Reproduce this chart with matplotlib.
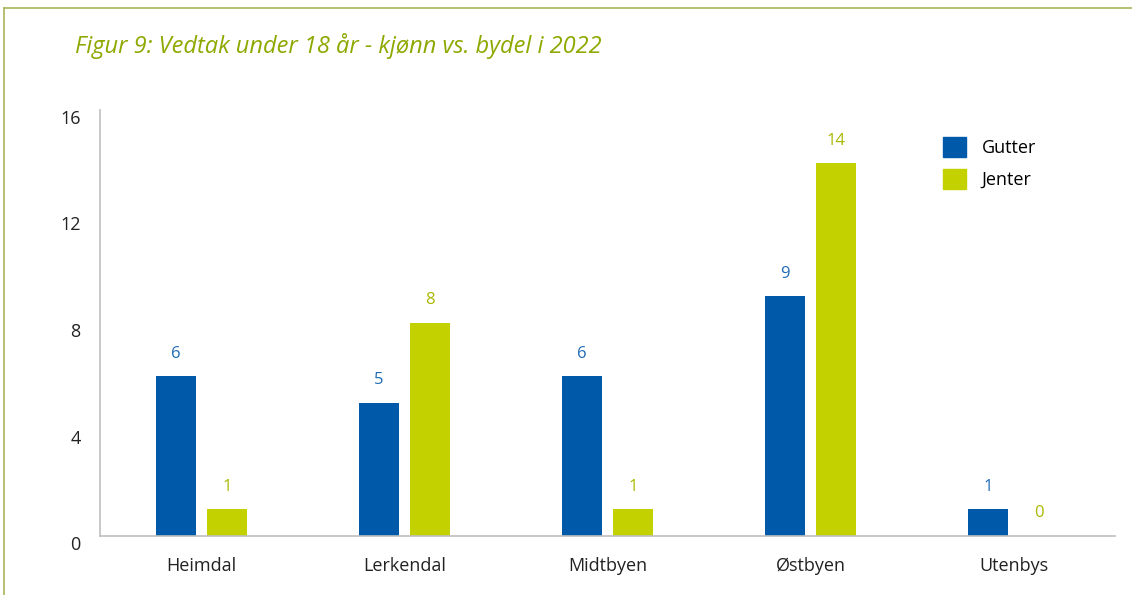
import matplotlib.pyplot as plt
import numpy as np
from matplotlib.lines import Line2D
from matplotlib.patches import Patch
from matplotlib.transforms import ScaledTranslation

plt.rcParams['font.family'] = ['Open Sans', 'DejaVu Sans']

categories = ["Heimdal", "Lerkendal", "Midtbyen", "Østbyen", "Utenbys"]
gutter = [6, 5, 6, 9, 1]
jenter = [1, 8, 1, 14, 0]
yticks = [0, 4, 8, 12, 16]

blue = "#005aa9"
green = "#c3d100"

fig = plt.figure(figsize=(11.32, 5.95), dpi=100)
ax = fig.add_axes([100 / 1132, 1 - 536 / 595, 1015 / 1132, 426 / 595])

x = np.arange(len(categories))
w = 0.2
ax.bar(x - 0.125, gutter, w, color=blue, label="Gutter")
ax.bar(x + 0.125, jenter, w, color=green, label="Jenter")

for i in range(len(categories)):
    ax.text(x[i] - 0.125, gutter[i] + 0.55, str(gutter[i]), ha="center", va="bottom",
            color="#1f6bb5", fontsize=12)
    ax.text(x[i] + 0.125, jenter[i] + 0.55, str(jenter[i]), ha="center", va="bottom",
            color="#a9b800", fontsize=12)

ax.set_xlim(-0.5, 4.5)
ax.set_ylim(0, 16)
ax.set_yticks(yticks)
ax.set_xticks(x)
ax.set_xticklabels(categories)
ax.tick_params(axis="both", length=0, labelsize=13, colors="#222222")
ax.tick_params(axis="x", pad=15)
ax.tick_params(axis="y", pad=14)
shift = ScaledTranslation(0, -7 / 100, fig.dpi_scale_trans)
for lab in ax.get_yticklabels():
    lab.set_transform(lab.get_transform() + shift)
for s in ["top", "right"]:
    ax.spines[s].set_visible(False)
for s in ["left", "bottom"]:
    ax.spines[s].set_color("#bfbfbf")
    ax.spines[s].set_linewidth(1.2)

handles = [Patch(color=blue), Patch(color=green)]
ax.legend(handles, ["Gutter", "Jenter"], loc="upper left", bbox_to_anchor=(0.815, 0.975),
          frameon=False, fontsize=13, handlelength=1.25, handleheight=1.35,
          handletextpad=0.85, labelspacing=0.65)

fig.text(75 / 1132, 1 - 46 / 595, "Figur 9: Vedtak under 18 år - kjønn vs. bydel i 2022",
         color="#8fa800", fontsize=17, style="italic", va="center", ha="left")

border = "#aab45a"
fig.add_artist(Line2D([4 / 1132, 1], [1 - 8 / 595, 1 - 8 / 595], color=border, lw=1.2))
fig.add_artist(Line2D([4 / 1132, 4 / 1132], [0, 1 - 8 / 595], color=border, lw=1.2))

fig.savefig("out.png", dpi=100)
